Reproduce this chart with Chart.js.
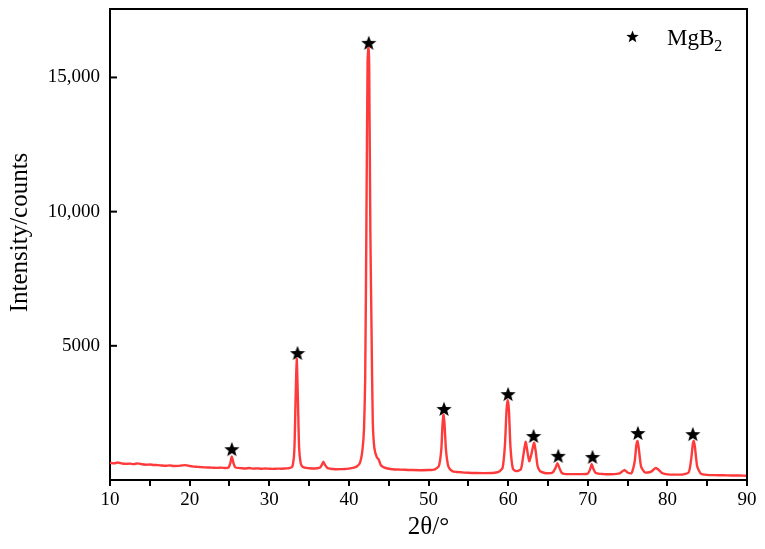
<!DOCTYPE html>
<html>
<head>
<meta charset="utf-8">
<script src="https://cdn.jsdelivr.net/npm/chart.js@4/dist/chart.umd.min.js"></script>
<style>
  html, body { margin: 0; padding: 0; background: #fff; }
  #wrap { width: 765px; height: 549px; }
</style>
</head>
<body>
<div id="wrap"><canvas id="xrd"></canvas></div>
<script>
// ---------------------------------------------------------------
// data
// ---------------------------------------------------------------
const twoTheta = [
  10.0, 10.5, 11.0, 11.5, 12.0, 12.5, 13.0, 13.5, 14.0, 14.5, 15.0, 15.5, 16.0, 16.5, 17.0, 17.5,
  18.0, 18.5, 19.0, 19.5, 20.0, 20.5, 21.0, 21.5, 22.0, 22.5, 23.0, 23.5, 24.0, 24.5, 24.9, 25.1,
  25.3, 25.5, 25.7, 26.0, 26.5, 27.0, 27.5, 28.0, 28.5, 29.0, 29.5, 30.0, 30.5, 31.0, 31.5, 32.0,
  32.5, 32.9, 33.15, 33.3, 33.45, 33.6, 33.75, 33.95, 34.2, 34.6, 35.0, 35.5, 36.0, 36.4, 36.6, 36.8,
  37.0, 37.3, 37.7, 38.0, 38.5, 39.0, 39.5, 40.0, 40.5, 41.0, 41.4, 41.7, 41.9, 42.05, 42.2, 42.35,
  42.45, 42.55, 42.7, 42.85, 43.0, 43.2, 43.5, 43.75, 44.0, 44.4, 45.0, 45.5, 46.0, 47.0, 48.0, 49.0,
  50.0, 50.8, 51.3, 51.6, 51.75, 51.88, 52.0, 52.2, 52.5, 53.0, 53.5, 54.0, 55.0, 56.0, 57.0, 58.0,
  58.8, 59.3, 59.6, 59.8, 59.95, 60.1, 60.3, 60.6, 61.0, 61.6, 61.9, 62.2, 62.4, 62.65, 62.95, 63.25,
  63.45, 63.7, 64.0, 64.5, 65.0, 65.6, 65.95, 66.2, 66.4, 66.7, 67.0, 68.0, 69.0, 70.0, 70.3, 70.5,
  70.7, 71.0, 72.0, 73.0, 74.0, 74.6, 75.0, 75.5, 75.9, 76.1, 76.25, 76.4, 76.7, 77.2, 77.9, 78.55,
  78.9, 79.4, 80.0, 81.0, 82.0, 82.7, 83.0, 83.2, 83.3, 83.45, 83.75, 84.2, 85.0, 86.0, 87.0, 88.0,
  89.0, 90.0
];
const counts = [
  640, 620, 650, 615, 600, 610, 590, 620, 585, 570, 580, 560, 555, 540, 530, 545,
  520, 525, 540, 555, 520, 500, 490, 480, 470, 465, 455, 450, 460, 445, 470, 620,
  880, 640, 480, 450, 440, 430, 445, 425, 435, 420, 430, 420, 415, 425, 420, 430,
  440, 500, 1100, 2900, 4520, 3000, 1200, 620, 490, 450, 440, 430, 440, 470, 560, 680,
  560, 450, 420, 410, 400, 405, 410, 425, 450, 500, 650, 1100, 1900, 3800, 9500, 15600,
  16100, 15400, 9200, 5500, 2200, 1200, 850, 760, 560, 470, 420, 400, 390, 380, 370, 365,
  370, 400, 520, 1100, 2000, 2430, 2150, 1100, 500, 330, 300, 290, 270, 260, 255, 260,
  300, 450, 1300, 2600, 2980, 2600, 1200, 420, 330, 400, 900, 1420, 1100, 700, 1000, 1390,
  1100, 520, 330, 270, 250, 280, 450, 630, 480, 280, 230, 220, 220, 240, 400, 600,
  420, 260, 220, 215, 250, 370, 280, 260, 700, 1300, 1450, 1200, 500, 280, 300, 450,
  380, 250, 210, 200, 210, 300, 800, 1350, 1450, 1250, 500, 240, 190, 180, 175, 170,
  165, 160
];

// peaks marked as MgB2
const starTheta = [25.3, 33.55, 42.5, 51.95, 60.0, 63.2, 66.3, 70.6, 76.3, 83.2];
const starCounts = [1150, 4730, 16290, 2650, 3200, 1640, 900, 860, 1750, 1710];

const xTicks = [10, 20, 30, 40, 50, 60, 70, 80, 90];
const yTicks = [5000, 10000, 15000];

const SERIF = "'Liberation Serif', 'Times New Roman', serif";

// filled five point star used as point style
function makeStar(size) {
    const c = document.createElement('canvas');
    c.width = size;
    c.height = size;
    const g = c.getContext('2d');
    const cx = size / 2, cy = size / 2 + size * 0.04;
    const ro = size / 2, ri = ro * 0.42;
    g.beginPath();
    for (let i = 0; i < 10; i++) {
        const r = i % 2 === 0 ? ro : ri;
        const a = -Math.PI / 2 + i * Math.PI / 5;
        const px = cx + r * Math.cos(a), py = cy + r * Math.sin(a);
        if (i === 0) g.moveTo(px, py); else g.lineTo(px, py);
    }
    g.closePath();
    g.fillStyle = '#000';
    g.fill();
    return c;
}
const starImg = makeStar(16);
const legendStar = makeStar(13);

// frame, inward y ticks, y title and the legend
const framePlugin = {
    id: 'frame',
    afterDraw(chart) {
        const { ctx, chartArea: a, scales } = chart;
        ctx.save();
        ctx.strokeStyle = '#000';
        ctx.lineWidth = 2;
        ctx.beginPath();
        ctx.moveTo(a.left, a.top);
        ctx.lineTo(a.right, a.top);
        ctx.lineTo(a.right, a.bottom);
        ctx.stroke();

        yTicks.forEach(v => {
            const y = scales.y.getPixelForValue(v);
            ctx.beginPath();
            ctx.moveTo(a.left, y);
            ctx.lineTo(a.left + 7, y);
            ctx.stroke();
        });

        ctx.fillStyle = '#000';

        // y axis title, sits a little above the middle
        ctx.save();
        ctx.translate(20, (a.top + a.bottom) / 2 - 12);
        ctx.rotate(-Math.PI / 2);
        ctx.font = '25px ' + SERIF;
        ctx.textAlign = 'center';
        ctx.textBaseline = 'middle';
        ctx.fillText('Intensity/counts', 0, 0);
        ctx.restore();

        // legend
        ctx.drawImage(legendStar, a.right - 121, a.top + 21);
        ctx.textBaseline = 'alphabetic';
        ctx.font = '23px ' + SERIF;
        ctx.fillText('MgB', a.right - 80, a.top + 36);
        const w = ctx.measureText('MgB').width;
        ctx.font = '16px ' + SERIF;
        ctx.fillText('2', a.right - 80 + w, a.top + 42);
        ctx.restore();
    }
};

new Chart(document.getElementById('xrd'), {
    type: 'line',
    data: {
        datasets: [{
            label: 'XRD',
            data: twoTheta.map((t, i) => ({ x: t, y: counts[i] })),
            borderColor: 'rgb(255, 58, 58)',
            borderWidth: 2.4,
            pointRadius: 0,
            tension: 0.2,
            fill: false
        }, {
            type: 'scatter',
            label: 'MgB2',
            data: starTheta.map((t, i) => ({ x: t, y: starCounts[i] })),
            pointStyle: starImg,
            pointRadius: 8
        }]
    },
    options: {
        responsive: true,
        maintainAspectRatio: false,
        animation: false,
        layout: { padding: { left: 0, top: 9, right: 18, bottom: 0 } },
        plugins: { legend: { display: false }, tooltip: { enabled: false } },
        scales: {
            x: {
                type: 'linear',
                min: 10,
                max: 90,
                afterBuildTicks: scale => {
                    scale.ticks = [];
                    for (let v = 10; v <= 90; v += 5) scale.ticks.push({ value: v });
                },
                afterFit: scale => {
                    scale.height = 69;
                    scale.paddingLeft = 0;
                    scale.paddingRight = 0;
                },
                border: { display: true, color: '#000', width: 2 },
                grid: { drawOnChartArea: false, drawTicks: true, tickLength: 6, color: '#000', lineWidth: 2 },
                ticks: {
                    autoSkip: false,
                    maxRotation: 0,
                    padding: 3,
                    color: '#000',
                    font: { family: SERIF, size: 19 },
                    callback: v => xTicks.includes(v) ? String(v) : ''
                },
                title: {
                    display: true,
                    text: '2θ/°',
                    color: '#000',
                    font: { family: SERIF, size: 25 },
                    padding: { top: 7, bottom: 7 }
                }
            },
            y: {
                min: 0,
                max: 17550,
                afterBuildTicks: scale => { scale.ticks = yTicks.map(v => ({ value: v })); },
                afterFit: scale => {
                    scale.width = 110;
                    scale.paddingTop = 0;
                    scale.paddingBottom = 0;
                },
                border: { display: true, color: '#000', width: 2 },
                grid: { display: false, drawTicks: false },
                ticks: {
                    padding: 10,
                    color: '#000',
                    font: { family: SERIF, size: 19 },
                    callback: v => v >= 10000 ? v.toLocaleString('en-US') : String(v)
                }
            }
        }
    },
    plugins: [framePlugin]
});
</script>
</body>
</html>
